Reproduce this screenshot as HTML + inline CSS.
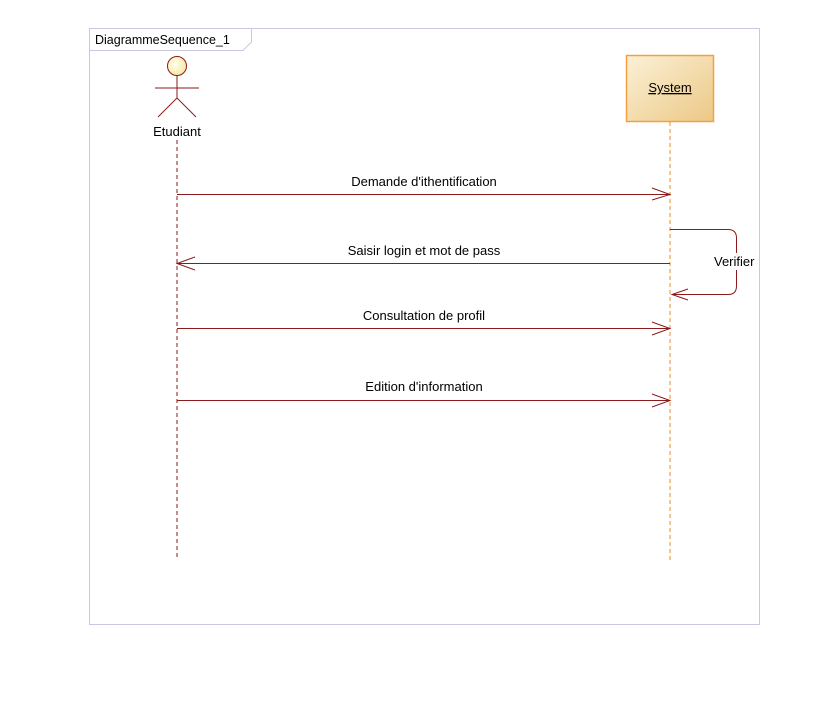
<!DOCTYPE html>
<html><head><style>
body{margin:0;background:#fff;width:828px;height:698px;overflow:hidden}
svg text{font-family:"Liberation Sans",sans-serif;font-size:13px;fill:#000}
</style></head><body>
<svg width="828" height="698" viewBox="0 0 828 698">
<defs><linearGradient id="g" x1="0" y1="0" x2="1" y2="1"><stop offset="0" stop-color="#fbf1d6"/><stop offset="1" stop-color="#ecc886"/></linearGradient>
<radialGradient id="h" cx="0.4" cy="0.4" r="0.6"><stop offset="0" stop-color="#fffff0"/><stop offset="1" stop-color="#f6eaa8"/></radialGradient></defs>
<rect x="89.5" y="28.5" width="670" height="596" fill="none" stroke="#c8c8e0"/>
<path d="M89.5 50.5 H243 L251.5 42 V28.5" fill="none" stroke="#c8c8e0"/>
<text x="95" y="44" style="font-size:12.5px">DiagrammeSequence_1</text>
<g stroke="#8b1a1a" stroke-width="1" fill="none">
<circle cx="177" cy="66" r="9.5" fill="url(#h)"/>
<line x1="155" y1="88" x2="199" y2="88"/>
<line x1="177" y1="76" x2="177" y2="98"/>
<line x1="177" y1="98" x2="158" y2="117"/>
<line x1="177" y1="98" x2="196" y2="117"/>
<line x1="177" y1="140" x2="177" y2="560" stroke-dasharray="4,3"/>
</g>
<text x="177" y="136" text-anchor="middle">Etudiant</text>
<rect x="626.5" y="55.5" width="87" height="66" fill="url(#g)" stroke="#f4a040" stroke-width="1.5"/>
<text x="670" y="92" text-anchor="middle" text-decoration="underline">System</text>
<line x1="670" y1="122" x2="670" y2="560" stroke="#f08a20" stroke-dasharray="4,3"/>
<g stroke="#8b1a1a" stroke-width="1" fill="none">
<line x1="177" y1="194.5" x2="670" y2="194.5"/><path d="M652 188 L670 194.5 L652 200"/>
<line x1="670" y1="263.5" x2="177" y2="263.5"/><path d="M195 257 L177 263.5 L195 270"/>
<line x1="177" y1="328.5" x2="670" y2="328.5"/><path d="M652 322 L670 328.5 L652 335"/>
<line x1="177" y1="400.5" x2="670" y2="400.5"/><path d="M652 394 L670 400.5 L652 407"/>
<path d="M670 229.5 H728 Q736.5 229.5 736.5 238 V286 Q736.5 294.5 728 294.5 H672"/>
<path d="M688 289 L672 294.5 L688 300"/>
</g>
<rect x="713" y="253" width="46" height="17" fill="#fff"/>
<text x="714" y="266">Verifier</text>
<text x="424" y="186" text-anchor="middle">Demande d'ithentification</text>
<text x="424" y="255" text-anchor="middle">Saisir login et mot de pass</text>
<text x="424" y="320" text-anchor="middle">Consultation de profil</text>
<text x="424" y="391" text-anchor="middle">Edition d'information</text>
</svg>
</body></html>
